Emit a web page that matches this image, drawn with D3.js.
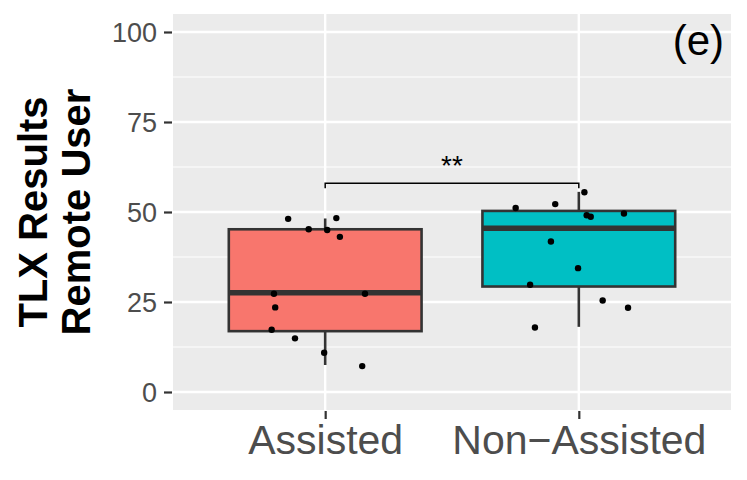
<!DOCTYPE html>
<html><head><meta charset="utf-8">
<script src="https://cdn.jsdelivr.net/npm/d3@7"></script>
<style>body{margin:0;background:#fff}svg{display:block}</style>
</head><body>
<script>
const categories = ["Assisted", "Non\u2212Assisted"];
const fills = ["#F8766D", "#00BFC4"];
// box stats: [lower whisker, Q1, median, Q3, upper whisker]
const boxAssisted = [7.5, 16.9, 27.6, 45.2, 48.2];
const boxNonAssisted = [18.1, 29.3, 45.5, 50.3, 55.6];
const pointsAssisted = [48.1, 48.3, 45.2, 45.0, 43.1, 27.3, 27.3, 23.5, 17.3, 14.9, 10.9, 7.2];
const jitterAssisted = [-0.146, 0.044, -0.065, 0.008, 0.058, -0.202, 0.157, -0.197, -0.211, -0.119, -0.004, 0.146];
const pointsNonAssisted = [55.5, 51.1, 52.2, 49.1, 48.7, 49.6, 41.8, 34.4, 29.8, 25.4, 23.4, 17.9];
const jitterNonAssisted = [0.022, -0.249, -0.093, 0.031, 0.047, 0.178, -0.110, -0.003, -0.192, 0.094, 0.194, -0.173];
const yTicks = [0, 25, 50, 75, 100];
const yMinor = [12.5, 37.5, 62.5, 87.5];
const bracketY = 58;
const bracketDrop = 56.6;
const sigLabel = "**";
const panelLabel = "(e)";
const yTitle = ["TLX Results", "Remote User"];

const W = 747, H = 480;
const P = {l: 173, r: 731, t: 14, b: 410};
const svg = d3.select("body").append("svg").attr("width", W).attr("height", H);

const x = d3.scalePoint().domain(categories).range([P.l, P.r]).padding(0.6);
const step = x.step();
const y = d3.scaleLinear().domain([-5, 105]).range([P.b, P.t]);

svg.append("rect").attr("x", P.l).attr("y", P.t).attr("width", P.r - P.l).attr("height", P.b - P.t).attr("fill", "#EBEBEB");

const g = svg.append("g");
g.selectAll(".minor").data(yMinor).enter().append("line")
  .attr("x1", P.l).attr("x2", P.r).attr("y1", d => y(d)).attr("y2", d => y(d))
  .attr("stroke", "#fff").attr("stroke-width", 1.2);
g.selectAll(".major").data(yTicks).enter().append("line")
  .attr("x1", P.l).attr("x2", P.r).attr("y1", d => y(d)).attr("y2", d => y(d))
  .attr("stroke", "#fff").attr("stroke-width", 2.4);
g.selectAll(".vmajor").data(categories).enter().append("line")
  .attr("x1", d => x(d)).attr("x2", d => x(d)).attr("y1", P.t).attr("y2", P.b)
  .attr("stroke", "#fff").attr("stroke-width", 2.4);

// axes
const yAxis = d3.axisLeft(y).tickValues(yTicks).tickSize(8).tickPadding(7);
const ya = svg.append("g").attr("transform", `translate(${P.l - 1},0)`).call(yAxis);
ya.select(".domain").remove();
ya.selectAll(".tick line").attr("stroke", "#333").attr("stroke-width", 2.2);
ya.selectAll(".tick text").attr("fill", "#4D4D4D").attr("font-family", "Liberation Sans, Arial, sans-serif").attr("font-size", 27).attr("dy", "0.35em");

const xAxis = d3.axisBottom(x).tickSize(8).tickPadding(6);
const xa = svg.append("g").attr("transform", `translate(0,${P.b + 1})`).call(xAxis);
xa.select(".domain").remove();
xa.selectAll(".tick line").attr("stroke", "#333").attr("stroke-width", 2.2);
xa.selectAll(".tick text").attr("fill", "#4D4D4D").attr("font-family", "Liberation Sans, Arial, sans-serif").attr("font-size", 41).attr("dy", "0.71em");

// boxes
const boxes = [boxAssisted, boxNonAssisted];
const bw = step * 0.76;
boxes.forEach((b, i) => {
  const cx = x(categories[i]);
  const bg = svg.append("g");
  bg.append("line").attr("x1", cx).attr("x2", cx).attr("y1", y(b[3])).attr("y2", y(b[4])).attr("stroke", "#333").attr("stroke-width", 2.6);
  bg.append("line").attr("x1", cx).attr("x2", cx).attr("y1", y(b[1])).attr("y2", y(b[0])).attr("stroke", "#333").attr("stroke-width", 2.6);
  bg.append("rect").attr("x", cx - bw / 2).attr("y", y(b[3])).attr("width", bw).attr("height", y(b[1]) - y(b[3]))
    .attr("fill", fills[i]).attr("stroke", "#333").attr("stroke-width", 2.6);
  bg.append("line").attr("x1", cx - bw / 2).attr("x2", cx + bw / 2).attr("y1", y(b[2])).attr("y2", y(b[2])).attr("stroke", "#333").attr("stroke-width", 5.5);
});

// points
const pts = [[pointsAssisted, jitterAssisted], [pointsNonAssisted, jitterNonAssisted]];
pts.forEach(([vals, jit], i) => {
  svg.append("g").selectAll("circle").data(vals).enter().append("circle")
    .attr("cx", (d, j) => x(categories[i]) + jit[j] * step)
    .attr("cy", d => y(d)).attr("r", 3.2).attr("fill", "#000");
});

// significance bracket
const x1 = x(categories[0]), x2 = x(categories[1]);
svg.append("path")
  .attr("d", `M${x1},${y(bracketDrop)}V${y(bracketY)}H${x2}V${y(bracketDrop)}`)
  .attr("fill", "none").attr("stroke", "#000").attr("stroke-width", 1.5);
svg.append("text").attr("x", (x1 + x2) / 2).attr("y", y(bracketY) - 8)
  .attr("text-anchor", "middle").attr("font-family", "Liberation Sans, Arial, sans-serif").attr("font-size", 28).text(sigLabel);

// panel label
svg.append("text").attr("x", 724).attr("y", 55).attr("text-anchor", "end")
  .attr("font-family", "Liberation Sans, Arial, sans-serif").attr("font-size", 42).attr("fill", "#000").text(panelLabel);

// y title
const yt = svg.append("text").attr("transform", `translate(47,${(P.t + P.b) / 2}) rotate(-90)`)
  .attr("text-anchor", "middle").attr("font-family", "Liberation Sans, Arial, sans-serif")
  .attr("font-weight", "bold").attr("font-size", 40).attr("fill", "#000");
yt.selectAll("tspan").data(yTitle).enter().append("tspan")
  .attr("x", 0).attr("dy", (d, i) => i === 0 ? 0 : 43).text(d => d);
</script>
</body></html>
